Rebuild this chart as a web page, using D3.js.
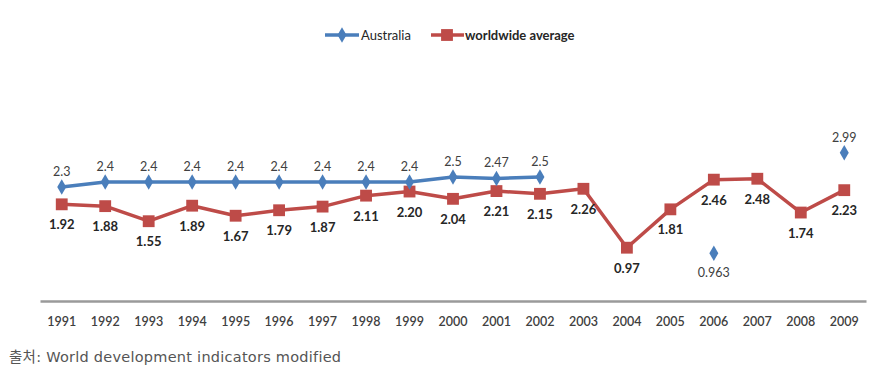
<!DOCTYPE html>
<html>
<head>
<meta charset="utf-8">
<script src="https://cdn.jsdelivr.net/npm/d3@7"></script>
<style>
  body { margin: 0; background: #fff; }
  svg { display: block; }
</style>
</head>
<body>
<svg id="chart" width="889" height="375"></svg>
<script>
// data
const years = [1991, 1992, 1993, 1994, 1995, 1996, 1997, 1998, 1999, 2000,
               2001, 2002, 2003, 2004, 2005, 2006, 2007, 2008, 2009];
const australia = [2.3, 2.4, 2.4, 2.4, 2.4, 2.4, 2.4, 2.4, 2.4, 2.5,
                   2.47, 2.5, null, null, null, 0.963, null, null, 2.99];
const australiaLabels = ["2.3", "2.4", "2.4", "2.4", "2.4", "2.4", "2.4", "2.4", "2.4", "2.5",
                         "2.47", "2.5", "", "", "", "0.963", "", "", "2.99"];
const worldwide = [1.92, 1.88, 1.55, 1.89, 1.67, 1.79, 1.87, 2.11, 2.20, 2.04,
                   2.21, 2.15, 2.26, 0.97, 1.81, 2.46, 2.48, 1.74, 2.23];
const worldwideLabels = ["1.92", "1.88", "1.55", "1.89", "1.67", "1.79", "1.87", "2.11", "2.20", "2.04",
                         "2.21", "2.15", "2.26", "0.97", "1.81", "2.46", "2.48", "1.74", "2.23"];
const seriesNames = ["Australia", "worldwide average"];
const sourceText = "출처: World development indicators modified";

const svg = d3.select("#chart");
const blue = "#4a7ebb", red = "#be4b48";
const font = "Lato, 'Open Sans', sans-serif";

// scales (the two series sit on separate hidden value axes, as in the source)
const x = d3.scaleBand().domain(years).range([40, 866]);
const cx = d => x(d) + x.bandwidth() / 2;
const yAus = d3.scaleLinear().domain([0, 3]).range([301, 152.2]);
const yWorld = d3.scaleLinear().domain([0, 3]).range([292, 155]);

// x axis
const xAxis = d3.axisBottom(x).tickSize(0).tickPadding(16);
const gx = svg.append("g").attr("transform", "translate(0,301)").call(xAxis);
gx.select(".domain").attr("stroke", "#9a9a9a").attr("stroke-width", 2.5);
gx.selectAll("text")
  .style("font-family", font).style("font-size", "12.5px")
  .style("font-weight", "600").attr("fill", "#404040");

// lines
const ausPts = years.map((yr, i) => ({ yr, v: australia[i], lab: australiaLabels[i] }));
const worldPts = years.map((yr, i) => ({ yr, v: worldwide[i], lab: worldwideLabels[i] }));

svg.append("path").datum(worldPts)
  .attr("fill", "none").attr("stroke", red).attr("stroke-width", 3.5)
  .attr("stroke-linejoin", "round")
  .attr("d", d3.line().x(d => cx(d.yr)).y(d => yWorld(d.v)));

svg.append("path").datum(ausPts)
  .attr("fill", "none").attr("stroke", blue).attr("stroke-width", 3.5)
  .attr("stroke-linejoin", "round")
  .attr("d", d3.line().defined(d => d.v !== null).x(d => cx(d.yr)).y(d => yAus(d.v)));

// markers
const square = d3.symbol().type(d3.symbolSquare).size(140);
const diamond = d3.symbol().type(d3.symbolDiamond).size(70);

svg.append("g").selectAll("path").data(worldPts).join("path")
  .attr("d", square)
  .attr("transform", d => `translate(${cx(d.yr)},${yWorld(d.v)})`)
  .attr("fill", red);

svg.append("g").selectAll("path").data(ausPts.filter(d => d.v !== null)).join("path")
  .attr("d", diamond)
  .attr("transform", d => `translate(${cx(d.yr)},${yAus(d.v)})`)
  .attr("fill", blue);

// data labels
svg.append("g").selectAll("text").data(worldPts).join("text")
  .attr("x", d => cx(d.yr))
  .attr("y", d => yWorld(d.v) + 25)
  .attr("text-anchor", "middle")
  .style("font-family", font).style("font-size", "13px").style("font-weight", "bold")
  .attr("fill", "#262626")
  .text(d => d.lab);

svg.append("g").selectAll("text").data(ausPts.filter(d => d.v !== null)).join("text")
  .attr("x", d => cx(d.yr))
  .attr("y", d => d.v < 1.5 ? yAus(d.v) + 24 : yAus(d.v) - 11)
  .attr("text-anchor", "middle")
  .style("font-family", font).style("font-size", "12.5px")
  .attr("fill", "#404040")
  .text(d => d.lab);

// legend
const legend = svg.append("g").attr("transform", "translate(0,35)");
legend.append("line").attr("x1", 325).attr("x2", 359).attr("stroke", blue).attr("stroke-width", 3.5);
legend.append("path").attr("d", diamond).attr("transform", "translate(342,0)").attr("fill", blue);
legend.append("text").attr("x", 361).attr("y", 4.5)
  .style("font-family", font).style("font-size", "13px").attr("fill", "#262626")
  .text(seriesNames[0]);
legend.append("line").attr("x1", 431).attr("x2", 464).attr("stroke", red).attr("stroke-width", 3.5);
legend.append("path").attr("d", square).attr("transform", "translate(447,0)").attr("fill", red);
legend.append("text").attr("x", 465).attr("y", 4.5)
  .style("font-family", font).style("font-size", "13px").style("font-weight", "bold").attr("fill", "#262626")
  .text(seriesNames[1]);

// source note
svg.append("text").attr("x", 9).attr("y", 362)
  .style("font-family", "'DejaVu Sans', 'Noto Sans CJK KR', sans-serif").style("font-size", "14.5px")
  .style("letter-spacing", "0.25px")
  .attr("fill", "#555")
  .text(sourceText);
</script>
</body>
</html>
